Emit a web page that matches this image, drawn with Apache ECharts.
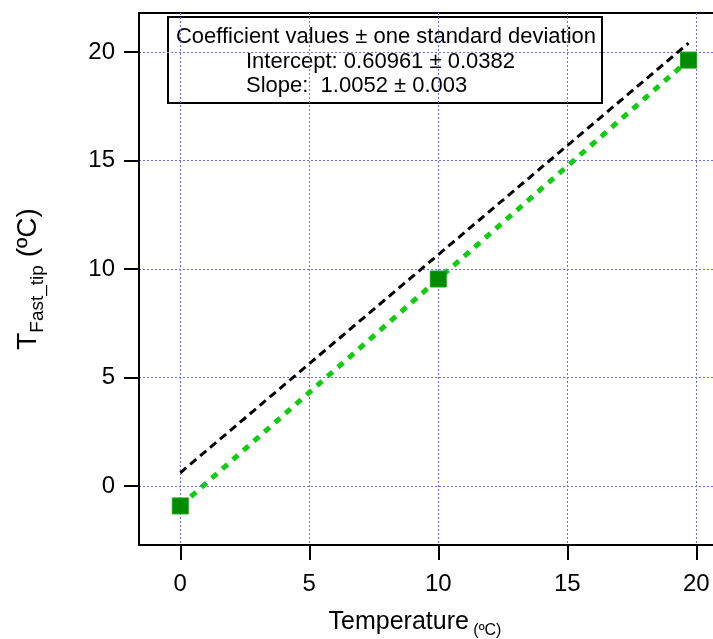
<!DOCTYPE html>
<html>
<head>
<meta charset="utf-8">
<script src="https://cdn.jsdelivr.net/npm/echarts@6/dist/echarts.min.js"></script>
<style>
  html, body { margin: 0; padding: 0; background: #ffffff; }
  #chart { width: 713px; height: 639px; }
</style>
</head>
<body>
<div id="chart"></div>
<script>
// Measured probe temperatures against the reference temperature
const refTemperature = [0, 10, 19.7];
const fastTipTemperature = [-0.92, 9.54, 19.63];

// Linear fit coefficients (shown in the annotation box)
const fitIntercept = 0.60961;
const fitSlope = 1.0052;
const fitXRange = [0, 19.7];

// Tick positions shared by both axes
const tickValues = [0, 5, 10, 15, 20];

// Annotation box text
const boxTitle = 'Coefficient values \u00b1 one standard deviation';
const boxLines = ['Intercept: 0.60961 \u00b1 0.0382', 'Slope:  1.0052 \u00b1 0.003'];

const FONT = '"Liberation Sans", Arial, Helvetica, sans-serif';

const measured = refTemperature.map((x, i) => [x, fastTipTemperature[i]]);
const fitLine = fitXRange.map(x => [x, fitIntercept + fitSlope * x]);

function gridLine() {
  return { show: true, lineStyle: { color: '#6a6aff', width: 1, type: [2, 2], opacity: 1 } };
}

const chart = echarts.init(document.getElementById('chart'), null, { renderer: 'canvas' });
chart.setOption({
  animation: false,
  backgroundColor: '#ffffff',
  grid: {
    left: 139, top: 13, width: 596, height: 532,
    outerBoundsMode: 'none', containLabel: false,
    show: true, borderColor: '#000000', borderWidth: 2, backgroundColor: 'transparent'
  },
  xAxis: {
    type: 'value', min: -1.6, max: 21.5,
    axisLine: { show: true, onZero: false, lineStyle: { color: '#000', width: 2 } },
    axisTick: { show: true, length: 15, lineStyle: { color: '#000', width: 2 }, customValues: tickValues },
    axisLabel: { customValues: tickValues, margin: 27, fontSize: 24, color: '#000', fontFamily: FONT },
    splitLine: gridLine(),
    name: '{a|Temperature}{b| (\u00baC)}',
    nameLocation: 'middle', nameGap: 60,
    nameTextStyle: {
      fontFamily: FONT, color: '#000',
      rich: {
        a: { fontSize: 25, fontFamily: FONT, color: '#000' },
        b: { fontSize: 16, fontFamily: FONT, color: '#000', padding: [18, 44, 0, 0] }
      }
    }
  },
  yAxis: {
    type: 'value', min: -2.72, max: 21.8,
    axisLine: { show: true, onZero: false, lineStyle: { color: '#000', width: 2 } },
    axisTick: { show: true, length: 15, lineStyle: { color: '#000', width: 2 }, customValues: tickValues },
    axisLabel: { customValues: tickValues, margin: 24, fontSize: 24, color: '#000', fontFamily: FONT },
    splitLine: gridLine(),
    name: '{a|T}{b|Fast_tip}{a| (\u00baC)}',
    nameLocation: 'middle', nameGap: 92, nameRotate: 90,
    nameTextStyle: {
      fontFamily: FONT, color: '#000',
      rich: {
        a: { fontSize: 28, fontFamily: FONT, color: '#000' },
        b: { fontSize: 19, fontFamily: FONT, color: '#000', padding: [18, 0, 0, 0] }
      }
    }
  },
  series: [
    {
      name: 'fit',
      type: 'line',
      data: fitLine,
      showSymbol: false,
      lineStyle: { color: '#000000', width: 3, type: [8, 5] },
      z: 2
    },
    {
      name: 'measured',
      type: 'line',
      data: measured,
      symbol: 'rect',
      symbolSize: 16,
      showSymbol: true,
      itemStyle: { color: '#008c00', borderColor: '#1aa51a', borderWidth: 1 },
      lineStyle: { color: '#11cc11', width: 5, type: [7, 7] },
      z: 3
    }
  ],
  graphic: [
    {
      type: 'group', left: 167, top: 16, z: 100,
      children: [
        { type: 'rect', shape: { x: 0, y: 0, width: 434, height: 86 },
          style: { fill: '#ffffff', stroke: '#000000', lineWidth: 2 } },
        { type: 'text', x: 218, y: 20,
          style: { text: boxTitle, fontSize: 22, fontFamily: FONT, fill: '#000',
                   textAlign: 'center', textVerticalAlign: 'middle' } },
        { type: 'text', x: 78, y: 45,
          style: { text: boxLines[0], fontSize: 22, fontFamily: FONT, fill: '#000',
                   textAlign: 'left', textVerticalAlign: 'middle' } },
        { type: 'text', x: 78, y: 69,
          style: { text: boxLines[1], fontSize: 22, fontFamily: FONT, fill: '#000',
                   textAlign: 'left', textVerticalAlign: 'middle' } }
      ]
    }
  ]
});
</script>
</body>
</html>
